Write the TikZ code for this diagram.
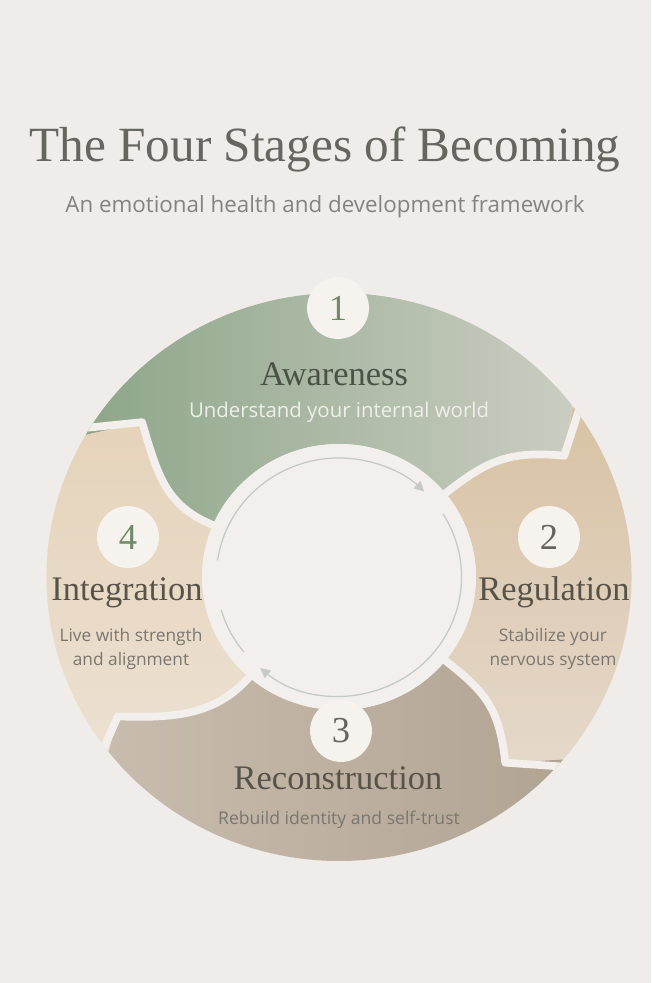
\documentclass[tikz,border=0pt]{standalone}
\usepackage{fontspec}
\setmainfont{Liberation Serif}
\newfontfamily\sansbody{Open Sans}
\usetikzlibrary{arrows.meta}

\definecolor{paper}{HTML}{EFECE9}
\definecolor{gap}{HTML}{F2EFEC}
\definecolor{dotfill}{HTML}{F6F3EF}
\definecolor{sageD}{HTML}{8EA68A}
\definecolor{sageL}{HTML}{CACDC1}
\definecolor{sandT}{HTML}{D8C2A4}
\definecolor{sandB}{HTML}{E5D8CA}
\definecolor{taupeL}{HTML}{C8BCAE}
\definecolor{taupeR}{HTML}{B2A493}
\definecolor{creamT}{HTML}{E5D3BA}
\definecolor{creamB}{HTML}{ECE0D1}
\definecolor{titlegray}{HTML}{66665F}
\definecolor{subgray}{HTML}{85837E}
\definecolor{arcgray}{HTML}{C5CAC3}
\definecolor{numgreen}{HTML}{6E8A67}
\definecolor{numgray}{HTML}{66645D}
\definecolor{namegray}{HTML}{57534B}
\definecolor{namegreen}{HTML}{4A5246}
\definecolor{desc}{HTML}{7A766F}
\definecolor{desclight}{HTML}{EEEFE9}

\begin{document}
\begin{tikzpicture}[
    x=0.025cm, y=0.025cm,
    numdot/.style={circle, fill=dotfill, minimum size=44pt, inner sep=0pt,
        font=\fontsize{26}{26}\selectfont},
    stagename/.style={anchor=base, font=\fontsize{24.5}{28}\selectfont},
    stagetext/.style={align=center, text=desc,
        font=\sansbody\fontsize{12.3}{17}\selectfont},
    gapline/.style={draw=gap, line width=5.5pt, line join=round},
    cyclearc/.style={draw=arcgray, line width=0.9pt},
    tip/.style={-{Triangle[length=7pt,width=7pt]}}
]
\fill[paper] (0,0) rectangle (651,983);
\useasboundingbox (0,0) rectangle (651,983);

% heading
\node[anchor=base, text=titlegray, font=\fontsize{35}{40}\selectfont] (title)
    at (325,821) {The Four Stages of Becoming};
\node[anchor=base, text=subgray, font=\sansbody\fontsize{15.9}{18}\selectfont]
    (subtitle) at (325,770) {An emotional health and development framework};

% ring
\begin{scope}[shift={(339,406)}, xscale=1.03]
\def\Rout{284}
\def\Rin{133}
\foreach \b/\ao/\at/\rt/\ai in {12/37/29/250/39, 23/-40/-49/246/-39,
                                34/218/213/256/229, 41/150/141/246/157} {
    \coordinate (b\b-o) at (\ao:\Rout);
    \coordinate (b\b-x) at (\ao:\Rout+12);
    \coordinate (b\b-t) at (\at:\rt);
    \coordinate (b\b-c) at ([shift={(\at+145:55)}]\at:\rt);
    \coordinate (b\b-d) at ([shift={(\ai:50)}]\ai:\Rin);
    \coordinate (b\b-i) at (\ai:\Rin);
    \coordinate (b\b-y) at (\ai:\Rin-12);
}
\shade[left color=sageD, right color=sageL]
    (b41-o) arc[start angle=150, end angle=37, radius=\Rout]
    -- (b12-t) .. controls (b12-c) and (b12-d) .. (b12-i)
    arc[start angle=39, end angle=157, radius=\Rin]
    .. controls (b41-d) and (b41-c) .. (b41-t) -- cycle;
\shade[top color=sandT, bottom color=sandB]
    (b12-o) arc[start angle=37, end angle=-40, radius=\Rout]
    -- (b23-t) .. controls (b23-c) and (b23-d) .. (b23-i)
    arc[start angle=-39, end angle=39, radius=\Rin]
    .. controls (b12-d) and (b12-c) .. (b12-t) -- cycle;
\shade[left color=taupeL, right color=taupeR]
    (b23-o) arc[start angle=-40, end angle=-142, radius=\Rout]
    -- (b34-t) .. controls (b34-c) and (b34-d) .. (b34-i)
    arc[start angle=-131, end angle=-39, radius=\Rin]
    .. controls (b23-d) and (b23-c) .. (b23-t) -- cycle;
\shade[top color=creamT, bottom color=creamB]
    (b34-o) arc[start angle=218, end angle=150, radius=\Rout]
    -- (b41-t) .. controls (b41-c) and (b41-d) .. (b41-i)
    arc[start angle=157, end angle=229, radius=\Rin]
    .. controls (b34-d) and (b34-c) .. (b34-t) -- cycle;
\begin{scope}
\clip (0,0) circle[radius=\Rout];
\foreach \b in {12,23,34,41}
    \draw[gapline] (b\b-x) -- (b\b-t) .. controls (b\b-c) and (b\b-d) .. (b\b-i) -- (b\b-y);
\end{scope}
\fill[gap] (0,0) circle[radius=\Rin];

% cycle arrows inside
\draw[cyclearc, tip] (172:119) arc[start angle=172, end angle=46, radius=119];
\draw[cyclearc, tip] (32:119) arc[start angle=32, end angle=-130, radius=119];
\draw[cyclearc] (196:119) arc[start angle=196, end angle=219, radius=119];
\end{scope}

% stage 1
\node[numdot, text=numgreen] (n1) at (338,675) {1};
\node[stagename, text=namegreen] (aware) at (334,597) {Awareness};
\node[anchor=base, text=desclight, font=\sansbody\fontsize{14.5}{17}\selectfont]
    (aware-t) at (339,565) {Understand your internal world};

% stage 2
\node[numdot, text=numgray] (n2) at (549,446) {2};
\node[stagename, text=namegray] (regul) at (554,382) {Regulation};
\node[stagetext] (regul-t) at (553,334) {Stabilize your\\nervous system};

% stage 3
\node[numdot, text=numgray] (n3) at (341,252) {3};
\node[stagename, text=namegray] (recon) at (338,193) {Reconstruction};
\node[anchor=base, text=desc, font=\sansbody\fontsize{12.5}{15}\selectfont]
    (recon-t) at (339,158) {Rebuild identity and self-trust};

% stage 4
\node[numdot, text=numgreen] (n4) at (128,446) {4};
\node[stagename, text=namegray] (integ) at (127,382) {Integration};
\node[stagetext] (integ-t) at (131,334) {Live with strength\\and alignment};
\end{tikzpicture}
\end{document}
